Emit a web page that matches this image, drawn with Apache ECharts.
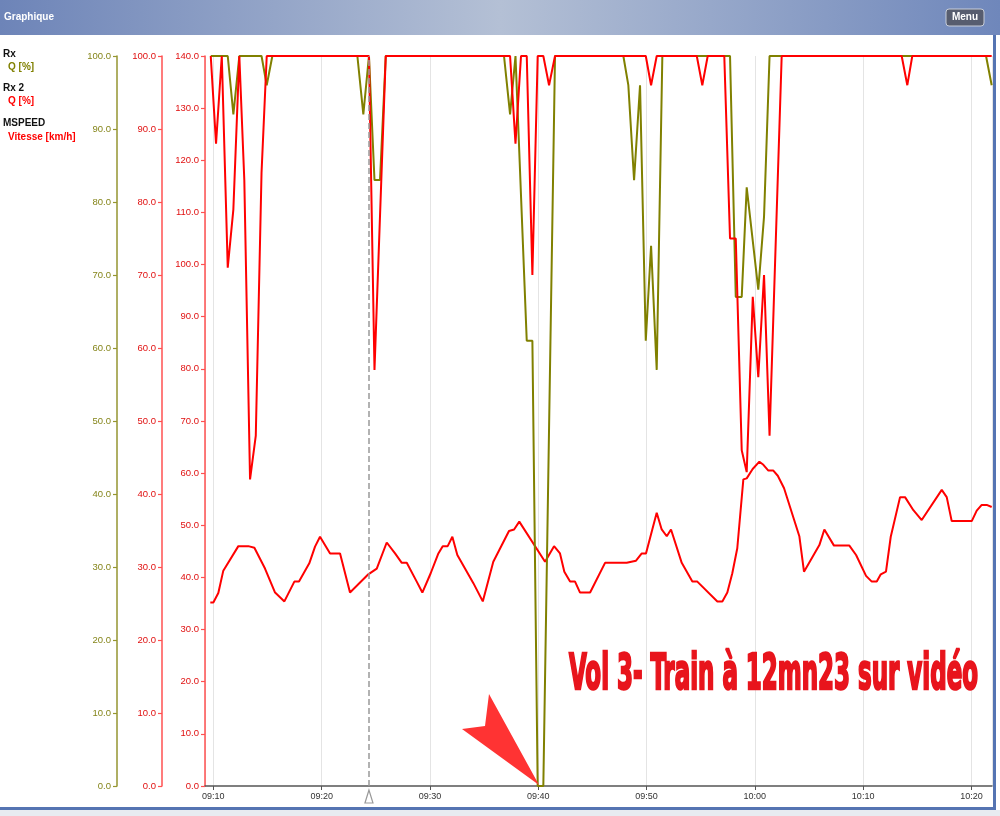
<!DOCTYPE html>
<html>
<head>
<meta charset="utf-8">
<script src="https://cdn.jsdelivr.net/npm/echarts@6/dist/echarts.min.js"></script>
<style>
html,body{margin:0;padding:0;background:#fff;}
#chart{width:1000px;height:816px;}
</style>
</head>
<body>
<div id="chart"></div>
<script>
// ---- DATA (times are minutes after 09:00) ----
const rxTime = [9.76, 11.33, 11.85, 12.40, 14.45, 14.93, 15.45, 23.30, 23.85, 24.37, 24.88, 25.39, 25.92, 36.84, 37.40, 37.90, 38.94, 39.46, 39.95, 40.47, 41.55, 47.86, 48.32, 48.85, 49.40, 49.93, 50.42, 50.94, 51.46, 57.71, 58.24, 58.79, 59.25, 60.32, 60.85, 61.36, 81.35, 81.87];
const rxQ = [100, 100, 92, 100, 100, 96, 100, 100, 92, 100, 83, 83, 100, 100, 92, 100, 61, 61, 0, 0, 100, 100, 96, 83, 96, 61, 74, 57, 100, 100, 67, 67, 82, 68, 78, 100, 100, 96];

const rx2Time = [9.76, 10.25, 10.78, 11.33, 11.85, 12.40, 12.86, 13.39, 13.92, 14.45, 14.93, 24.37, 24.88, 25.92, 37.40, 37.90, 38.41, 38.94, 39.46, 39.95, 40.47, 41.00, 41.55, 49.93, 50.42, 50.94, 54.64, 55.15, 55.65, 57.18, 57.71, 58.24, 58.79, 59.25, 59.81, 60.32, 60.85, 61.36, 62.48, 73.56, 74.08, 74.54, 81.87];
const rx2Q = [100, 88, 100, 71, 79, 100, 83, 42, 48, 84, 100, 100, 57, 100, 100, 88, 100, 100, 70, 100, 100, 96, 100, 100, 96, 100, 100, 96, 100, 100, 75, 75, 46, 43, 67, 56, 70, 48, 100, 100, 96, 100, 100];

const speedTime = [9.72, 10.00, 10.46, 10.92, 12.31, 13.23, 13.79, 14.77, 15.70, 16.56, 17.48, 17.91, 18.86, 19.39, 19.85, 20.78, 21.70, 22.62, 24.31, 25.09, 26.01, 26.78, 27.40, 27.86, 28.78, 29.30, 30.07, 30.78, 31.18, 31.64, 32.07, 32.53, 34.01, 34.88, 35.85, 37.30, 37.77, 38.25, 40.63, 41.46, 42.01, 42.41, 42.94, 43.40, 43.86, 44.79, 46.17, 48.17, 49.03, 49.56, 49.95, 50.94, 51.40, 51.87, 52.26, 53.25, 54.23, 54.69, 56.54, 57.00, 57.46, 57.92, 58.38, 58.94, 59.25, 59.80, 60.42, 60.79, 61.25, 61.71, 62.12, 62.70, 64.11, 64.54, 65.96, 66.42, 67.31, 68.73, 69.35, 70.27, 70.80, 71.26, 71.63, 72.11, 72.55, 73.41, 73.87, 74.64, 75.41, 77.26, 77.72, 78.18, 80.03, 80.49, 80.95, 81.41, 81.87];
const speedKmh = [35.2, 35.2, 37.0, 41.3, 46.0, 46.0, 45.7, 41.7, 37.1, 35.4, 39.2, 39.2, 42.7, 45.9, 47.8, 44.6, 44.6, 37.1, 40.6, 41.7, 46.7, 44.6, 42.8, 42.8, 39.2, 37.1, 40.8, 44.6, 46.0, 46.0, 47.8, 44.3, 38.9, 35.4, 43.0, 48.9, 49.2, 50.7, 43.0, 46.0, 44.6, 41.1, 39.2, 39.2, 37.1, 37.1, 42.8, 42.8, 43.2, 44.6, 44.6, 52.4, 49.2, 47.9, 49.2, 42.8, 39.2, 39.2, 35.4, 35.4, 37.1, 40.8, 45.6, 58.8, 59.0, 60.8, 62.2, 61.6, 60.5, 60.5, 59.5, 57.1, 47.9, 41.1, 46.2, 49.2, 46.1, 46.1, 44.3, 40.3, 39.2, 39.2, 40.6, 41.1, 47.8, 55.4, 55.4, 52.9, 51.0, 56.8, 55.4, 50.8, 50.8, 52.8, 53.9, 53.9, 53.5];

const axisRange = [9.23, 81.9];      // minutes after 09:00
const cursorTime = [24.37];          // dashed cursor
const legendLabels = ['Rx', 'Q [%]', 'Rx 2', 'Q [%]', 'MSPEED', 'Vitesse [km/h]'];
const annotation = 'Vol 3- Train à 12mn23 sur vidéo';

// ---- helpers ----
const pairs = (t, v) => t.map((m, i) => [m, v[i]]);
const pad = n => (n < 10 ? '0' : '') + n;
const fmtMin = m => { const tot = Math.round(m) + 9 * 60; return pad(Math.floor(tot / 60)) + ':' + pad(tot % 60); };

const OLIVE = '#808000';
const RED = '#ff0000';
const lblFont = '"Liberation Sans", Arial, sans-serif';

function yAx(max, offset, color, lblColor) {
  return {
    type: 'value', min: 0, max: max, interval: 10, position: 'left', offset: offset,
    axisLine: { show: true, lineStyle: { color: color, width: 1.5 } },
    axisTick: { show: true, length: 4, lineStyle: { color: color, width: 1.2 } },
    axisLabel: { color: lblColor, fontSize: 9.5, fontFamily: lblFont, margin: 6,
                 formatter: v => v.toFixed(1) },
    splitLine: { show: false }
  };
}

const chart = echarts.init(document.getElementById('chart'), null, { renderer: 'canvas' });

const option = {
  animation: false,
  backgroundColor: 'transparent',
  grid: { left: 205, right: 8, top: 56, bottom: 30, containLabel: false },
  xAxis: {
    type: 'value', min: axisRange[0], max: axisRange[1], splitNumber: 7,
    axisLine: { show: true, onZero: false, lineStyle: { color: '#555', width: 1.5 } },
    axisTick: { show: true, length: 4, lineStyle: { color: '#555' } },
    axisLabel: { color: '#333', fontSize: 9, fontFamily: lblFont, margin: 6,
                 showMinLabel: false, showMaxLabel: false,
                 formatter: v => (Math.abs(v - Math.round(v)) < 1e-6 ? fmtMin(v) : '') },
    splitLine: { show: true, lineStyle: { color: '#e4e4e4', width: 1 } }
  },
  yAxis: [
    yAx(140, 0, '#ff5050', '#e01010'),
    yAx(100, 43, '#ff5050', '#e01010'),
    yAx(100, 88, '#959530', '#85851a')
  ],
  series: [
    { name: 'MSPEED', type: 'line', yAxisIndex: 0, data: pairs(speedTime, speedKmh),
      showSymbol: false, symbol: 'none', lineStyle: { color: RED, width: 2 }, z: 2,
      markLine: { silent: true, symbol: ['none', 'none'], label: { show: false },
        lineStyle: { color: '#999', type: [6, 3], width: 1.5 },
        data: cursorTime.map(m => ({ xAxis: m })) } },
    { name: 'Rx', type: 'line', yAxisIndex: 2, data: pairs(rxTime, rxQ),
      showSymbol: false, symbol: 'none', lineStyle: { color: OLIVE, width: 2 }, z: 3 },
    { name: 'Rx 2', type: 'line', yAxisIndex: 1, data: pairs(rx2Time, rx2Q),
      showSymbol: false, symbol: 'none', lineStyle: { color: RED, width: 2 }, z: 4 }
  ]
};
chart.setOption(option);

// annotation text scaling
const annFont = 'bold 50px "Liberation Sans Narrow", "DejaVu Sans Condensed", "Liberation Sans", sans-serif';
const cv = document.createElement('canvas').getContext('2d');
cv.font = annFont;
const annW = cv.measureText(annotation).width + 2;
const annScale = 410 / annW;

const cx = chart.convertToPixel({ xAxisIndex: 0 }, cursorTime[0]);
const legFont = 'bold 10px "Liberation Sans", Arial, sans-serif';

chart.setOption({
  graphic: [
    { type: 'rect', shape: { x: 0, y: 0, width: 1000, height: 35 }, z: 10,
      style: { fill: new echarts.graphic.LinearGradient(0, 0, 1, 0, [
        { offset: 0, color: '#6d84b8' }, { offset: 0.5, color: '#b4c0d5' }, { offset: 1, color: '#6f87bb' }]) } },
    { type: 'text', x: 4, y: 17, z: 11, style: { text: 'Graphique', fill: '#fff', font: 'bold 10px "Liberation Sans", Arial, sans-serif', verticalAlign: 'middle' } },
    { type: 'rect', shape: { x: 946, y: 9, width: 38, height: 17, r: 3 }, z: 11,
      style: { fill: '#575d6f', stroke: '#c8cdd8', lineWidth: 1 } },
    { type: 'text', x: 965, y: 17.5, z: 12, style: { text: 'Menu', fill: '#fff', font: 'bold 10px "Liberation Sans", Arial, sans-serif', align: 'center', verticalAlign: 'middle' } },
    { type: 'rect', shape: { x: 993, y: 35, width: 3, height: 775 }, z: 10, style: { fill: '#5574b2' } },
    { type: 'rect', shape: { x: 0, y: 807, width: 996, height: 3 }, z: 10, style: { fill: '#5574b2' } },
    { type: 'rect', shape: { x: 0, y: 810, width: 1000, height: 6 }, z: 10, style: { fill: '#e8ebf1' } },
    { type: 'text', x: 3, y: 54, z: 11, style: { text: legendLabels[0], fill: '#111', font: legFont, verticalAlign: 'middle' } },
    { type: 'text', x: 8, y: 67, z: 11, style: { text: legendLabels[1], fill: OLIVE, font: legFont, verticalAlign: 'middle' } },
    { type: 'text', x: 3, y: 88, z: 11, style: { text: legendLabels[2], fill: '#111', font: legFont, verticalAlign: 'middle' } },
    { type: 'text', x: 8, y: 101, z: 11, style: { text: legendLabels[3], fill: RED, font: legFont, verticalAlign: 'middle' } },
    { type: 'text', x: 3, y: 123, z: 11, style: { text: legendLabels[4], fill: '#111', font: legFont, verticalAlign: 'middle' } },
    { type: 'text', x: 8, y: 137, z: 11, style: { text: legendLabels[5], fill: RED, font: legFont, verticalAlign: 'middle' } },
    { type: 'polygon', z: 11, shape: { points: [[cx, 790], [cx - 4, 803], [cx + 4, 803]] },
      style: { fill: '#fff', stroke: '#999', lineWidth: 1.2 } },
    { type: 'text', x: 569, y: 676, scaleX: annScale, z: 20,
      style: { text: annotation, fill: '#e8141c', stroke: '#e8141c', lineWidth: 2.5, font: annFont, verticalAlign: 'middle' } },
    { type: 'polygon', z: 20, shape: { points: [[489, 694], [539, 785], [462, 729], [485, 726]] },
      style: { fill: '#ff3333' } }
  ]
});
</script>
</body>
</html>
